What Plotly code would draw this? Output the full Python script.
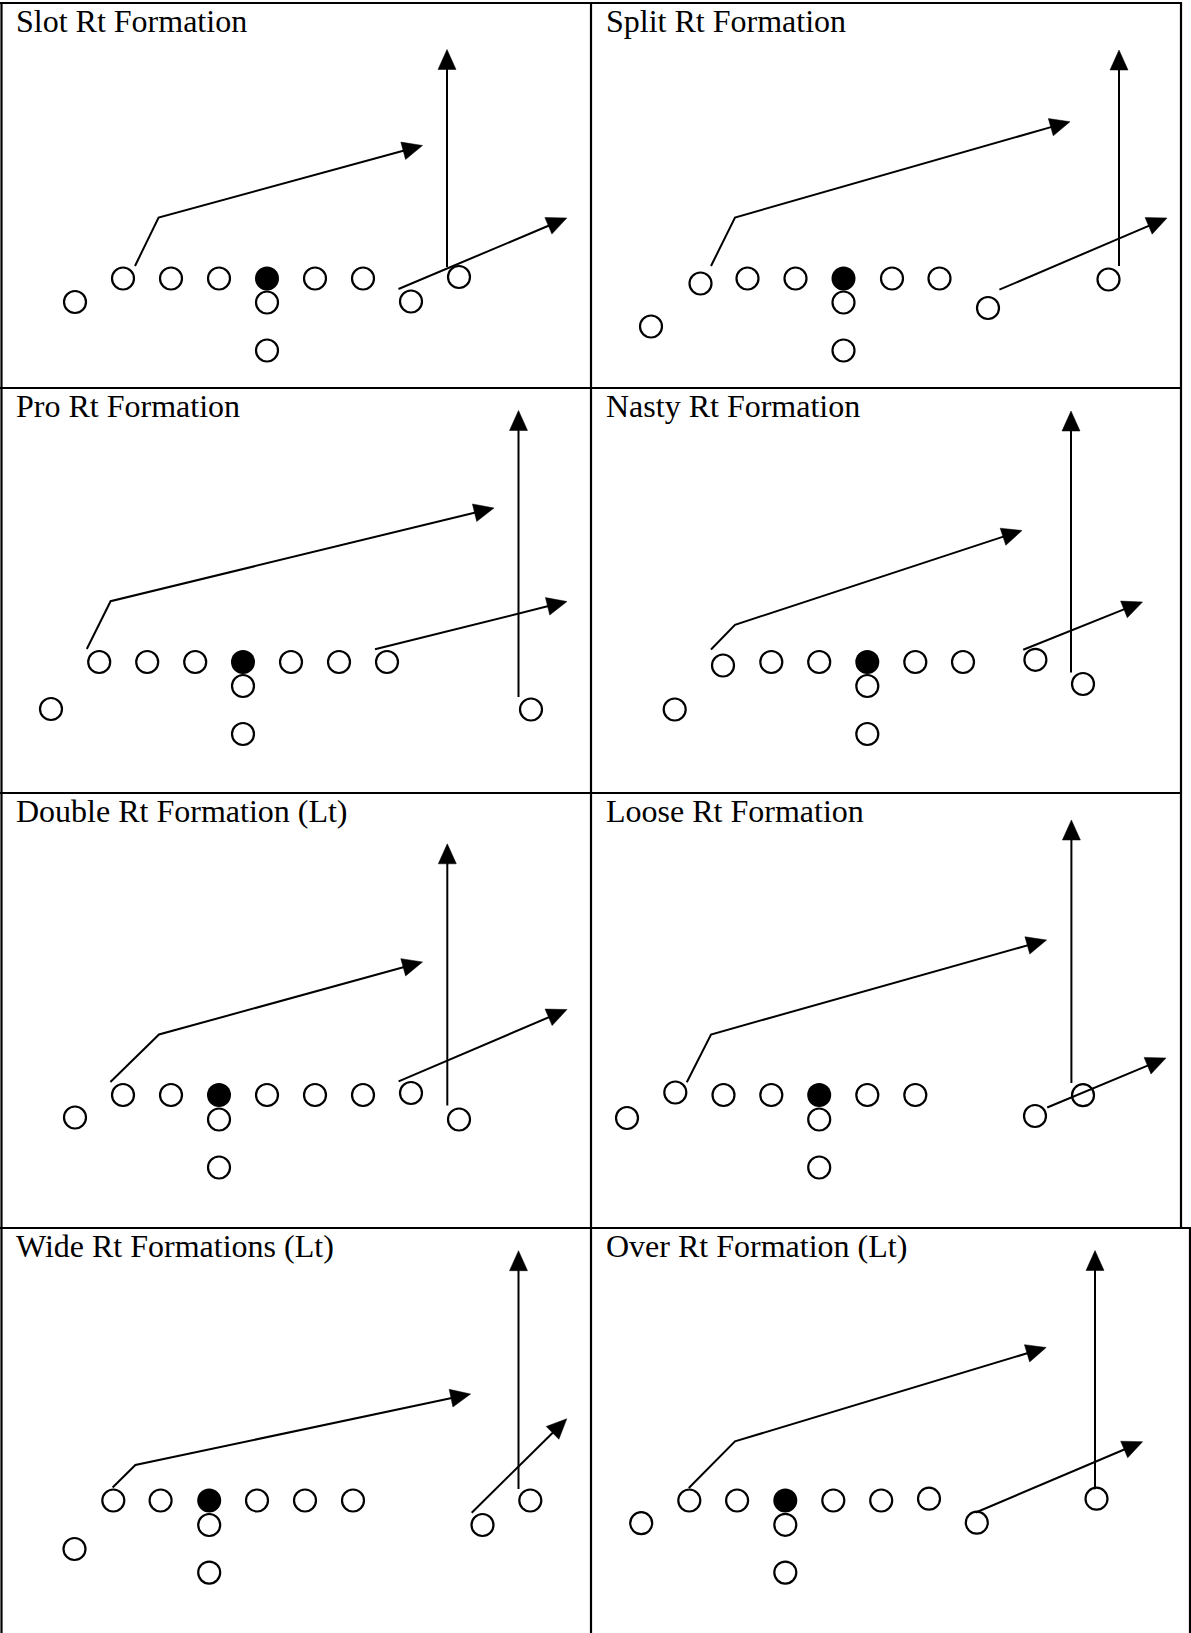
import math
import plotly.graph_objects as go

# ---------------- data (pixel coordinates of the 1191 x 1633 sheet) ----------------
TITLES = [
    "Slot Rt Formation", "Split Rt Formation",
    "Pro Rt Formation", "Nasty Rt Formation",
    "Double Rt Formation (Lt)", "Loose Rt Formation",
    "Wide Rt Formations (Lt)", "Over Rt Formation (Lt)",
]

# Slot Rt
SLOT_OPEN_X = [75, 123, 171, 219, 315, 363, 411, 459, 267, 267]
SLOT_OPEN_Y = [302, 278.5, 278.5, 278.5, 278.5, 278.5, 301.5, 277, 302.5, 350.5]
SLOT_CENTER = [267, 278.5]
SLOT_ROUTES = [[(135, 266), (158.6, 217.5), (422.5, 145.5)],
               [(447, 267), (447, 49.5)],
               [(398.5, 289), (566.8, 218)]]

# Split Rt
SPLIT_OPEN_X = [651, 700.5, 747.5, 795.5, 892, 939.5, 988, 1108.5, 843.5, 843.5]
SPLIT_OPEN_Y = [326.5, 283.5, 278.5, 278.5, 278.5, 278.5, 308, 279.5, 302.5, 350.5]
SPLIT_CENTER = [843.5, 278.5]
SPLIT_ROUTES = [[(711, 266), (735, 217.5), (1070, 121.7)],
                [(1119, 266), (1119, 50)],
                [(999.4, 289.7), (1167, 218)]]

# Pro Rt
PRO_OPEN_X = [51, 99.2, 147.2, 195.2, 291, 339, 387, 243, 243, 531]
PRO_OPEN_Y = [709, 662, 662, 662, 662, 662, 662, 686, 734, 709.5]
PRO_CENTER = [243, 662]
PRO_ROUTES = [[(86.8, 649), (110.6, 601.2), (494, 508)],
              [(518.5, 697), (518.5, 410.5)],
              [(375, 649.2), (567, 601.5)]]

# Nasty Rt
NASTY_OPEN_X = [674.7, 723, 771.3, 819.2, 915.3, 963, 1035.4, 1083, 867.3, 867.3]
NASTY_OPEN_Y = [709.5, 665.5, 662, 662, 662, 662, 659.8, 684, 686, 734]
NASTY_CENTER = [867.3, 662]
NASTY_ROUTES = [[(711, 649.5), (735, 624.8), (1022, 530.5)],
                [(1071, 672.5), (1071, 411)],
                [(1023.2, 649.8), (1142.5, 602)]]

# Double Rt (Lt)
DOUBLE_OPEN_X = [75, 123, 171, 267, 315, 363, 411, 219, 219, 459]
DOUBLE_OPEN_Y = [1117.5, 1095, 1095, 1095, 1095, 1095, 1093, 1119.5, 1167.5, 1119.5]
DOUBLE_CENTER = [219, 1095]
DOUBLE_ROUTES = [[(110.4, 1082), (159, 1034.5), (422.5, 962)],
                 [(447.3, 1105.5), (447.3, 843.8)],
                 [(398.6, 1081.3), (567, 1009.5)]]

# Loose Rt
LOOSE_OPEN_X = [627, 675.3, 723.5, 771.3, 867.3, 915.3, 1035, 1083, 819.2, 819.2]
LOOSE_OPEN_Y = [1118, 1092.5, 1095, 1095, 1095, 1095, 1116, 1095.2, 1119.5, 1167.5]
LOOSE_CENTER = [819.2, 1095]
LOOSE_ROUTES = [[(686.8, 1082.3), (711, 1034.5), (1046.6, 940)],
                [(1071.4, 1083), (1071.4, 820)],
                [(1047.2, 1107.5), (1166, 1058)]]

# Wide Rt (Lt)
WIDE_OPEN_X = [74.5, 113.3, 160.6, 257, 305, 353, 209.2, 209.2, 482.5, 530.3]
WIDE_OPEN_Y = [1549, 1500.5, 1500.5, 1500.5, 1500.5, 1500.5, 1525, 1572.6, 1525, 1500.5]
WIDE_CENTER = [209.2, 1500.5]
WIDE_ROUTES = [[(112.6, 1487.5), (135.4, 1465), (470.6, 1394)],
               [(518.5, 1489), (518.5, 1250.7)],
               [(471.7, 1512.7), (566.8, 1418.8)]]

# Over Rt (Lt)
OVER_OPEN_X = [641.2, 689.3, 737.1, 833.3, 881.2, 929, 976.8, 1096.5, 785.3, 785.3]
OVER_OPEN_Y = [1523.2, 1500.5, 1500.5, 1500.5, 1500.5, 1498.7, 1522.7, 1498.7, 1524.8, 1572.6]
OVER_CENTER = [785.3, 1500.5]
OVER_ROUTES = [[(688.8, 1488), (735, 1441.4), (1046.2, 1347.5)],
               [(1095, 1489.3), (1095, 1250.5)],
               [(975.8, 1512.5), (1142.6, 1441.7)]]

PANELS = [
    (SLOT_OPEN_X, SLOT_OPEN_Y, SLOT_CENTER, SLOT_ROUTES),
    (SPLIT_OPEN_X, SPLIT_OPEN_Y, SPLIT_CENTER, SPLIT_ROUTES),
    (PRO_OPEN_X, PRO_OPEN_Y, PRO_CENTER, PRO_ROUTES),
    (NASTY_OPEN_X, NASTY_OPEN_Y, NASTY_CENTER, NASTY_ROUTES),
    (DOUBLE_OPEN_X, DOUBLE_OPEN_Y, DOUBLE_CENTER, DOUBLE_ROUTES),
    (LOOSE_OPEN_X, LOOSE_OPEN_Y, LOOSE_CENTER, LOOSE_ROUTES),
    (WIDE_OPEN_X, WIDE_OPEN_Y, WIDE_CENTER, WIDE_ROUTES),
    (OVER_OPEN_X, OVER_OPEN_Y, OVER_CENTER, OVER_ROUTES),
]

# ---------------- layout constants ----------------
W, H = 1191, 1633
ROW_TOPS = [3, 388, 793, 1228]
COL_LEFTS = [1.5, 591]
HEAD_LEN, HEAD_HALF = 20, 9
INK = "black"

# ---------------- build traces ----------------
ox, oy, cx, cy = [], [], [], []
lx, ly, ax, ay = [], [], [], []
for open_x, open_y, center, routes in PANELS:
    ox += open_x
    oy += open_y
    cx.append(center[0])
    cy.append(center[1])
    for route in routes:
        (px, py), (tx, ty) = route[-2], route[-1]
        d = math.hypot(tx - px, ty - py)
        ux, uy = (tx - px) / d, (ty - py) / d
        nx, ny = -uy, ux
        bx, by = tx - HEAD_LEN * ux, ty - HEAD_LEN * uy
        pts = route[:-1] + [(bx + 2 * ux, by + 2 * uy)]
        lx += [p[0] for p in pts] + [None]
        ly += [p[1] for p in pts] + [None]
        ax += [tx, bx + HEAD_HALF * nx, bx - HEAD_HALF * nx, tx, None]
        ay += [ty, by + HEAD_HALF * ny, by - HEAD_HALF * ny, ty, None]

fig = go.Figure()
fig.add_trace(go.Scatter(x=lx, y=ly, mode="lines", line=dict(color=INK, width=2),
                         hoverinfo="skip", connectgaps=False))
fig.add_trace(go.Scatter(x=ax, y=ay, mode="lines", fill="toself", fillcolor=INK,
                         line=dict(color=INK, width=0.5), hoverinfo="skip"))
fig.add_trace(go.Scatter(x=ox, y=oy, mode="markers",
                         marker=dict(symbol="circle-open", size=22, color=INK,
                                     line=dict(width=2.2, color=INK)),
                         hoverinfo="skip"))
fig.add_trace(go.Scatter(x=cx, y=cy, mode="markers",
                         marker=dict(symbol="circle", size=24, color=INK,
                                     line=dict(width=0)),
                         hoverinfo="skip"))

# table borders
line_style = dict(color=INK, width=2.2)
shapes = []
for yv in ROW_TOPS[:3]:
    shapes.append(dict(type="line", x0=0, x1=1181, y0=yv, y1=yv, line=line_style))
shapes.append(dict(type="line", x0=0, x1=1191, y0=ROW_TOPS[3], y1=ROW_TOPS[3], line=line_style))
shapes.append(dict(type="line", x0=COL_LEFTS[0], x1=COL_LEFTS[0], y0=2, y1=H, line=line_style))
shapes.append(dict(type="line", x0=COL_LEFTS[1], x1=COL_LEFTS[1], y0=2, y1=H, line=line_style))
shapes.append(dict(type="line", x0=1181, x1=1181, y0=2, y1=ROW_TOPS[3], line=line_style))
shapes.append(dict(type="line", x0=1190, x1=1190, y0=ROW_TOPS[3], y1=H, line=line_style))
for s in shapes:
    s.update(xref="x", yref="y", layer="above")

annotations = []
for i, title in enumerate(TITLES):
    row, col = divmod(i, 2)
    annotations.append(dict(
        x=COL_LEFTS[col] + 12.5, y=ROW_TOPS[row] - 2.5, xref="x", yref="y",
        xanchor="left", yanchor="top", text=title, showarrow=False,
        font=dict(family="Liberation Serif, Times New Roman, serif", size=32, color=INK),
    ))

fig.update_layout(
    width=W, height=H, autosize=False,
    margin=dict(l=0, r=0, t=0, b=0, pad=0),
    paper_bgcolor="white", plot_bgcolor="white",
    showlegend=False,
    xaxis=dict(range=[0, W], visible=False, fixedrange=True),
    yaxis=dict(range=[H, 0], visible=False, fixedrange=True),
    shapes=shapes, annotations=annotations,
)

fig.write_html("out.html", config={"displayModeBar": False},
               post_script="document.body.style.margin='0';document.body.style.overflow='hidden';")
